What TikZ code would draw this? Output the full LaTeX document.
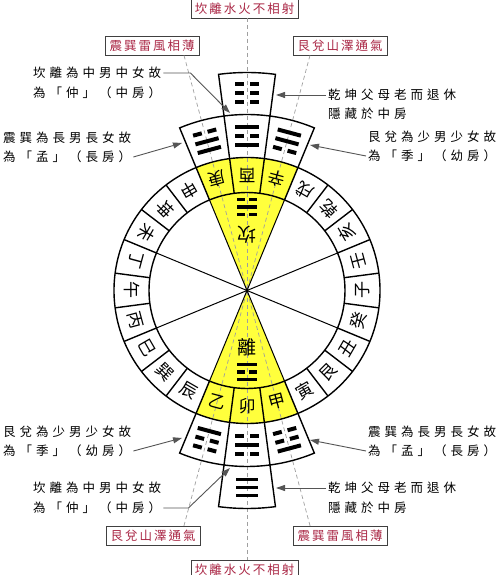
\documentclass[tikz,border=0pt]{standalone}
\usepackage{fontspec}
\newfontfamily\cjk{Noto Sans CJK TC}
\usetikzlibrary{calc,arrows.meta}
\definecolor{yel}{RGB}{255,255,60}
\definecolor{lblred}{RGB}{170,40,70}
\definecolor{arrgray}{RGB}{85,85,85}
\makeatletter
\def\spc#1#2{\def\spc@w{#1}\spc@a#2\@nil}
\def\spc@a#1{\ifx#1\@nil\else\makebox[\spc@w][c]{#1}\expandafter\spc@a\fi}
\makeatother
\newcommand\trow[2]{\if#2S\fill (-12,#1-2) rectangle (12,#1+2);\else\fill (-12,#1-2) rectangle (-3,#1+2);\fill (3,#1-2) rectangle (12,#1+2);\fi}
\newcommand\tri[6]{\begin{scope}[shift={#1},rotate=#2,scale=#3]\trow{9}{#4}\trow{0}{#5}\trow{-9}{#6}\end{scope}}
\begin{document}
\begin{tikzpicture}[x=1pt,y=1pt,
  ringline/.style={line width=1.4pt,black},
  thinline/.style={line width=1pt,black},
  dline/.style={draw=gray!75,line width=0.7pt,dash pattern=on 4pt off 3pt},
  lab/.style={draw=black!75,line width=0.8pt,fill=white,text=lblred,inner sep=0pt,minimum height=19pt,font=\cjk\fontsize{12.5}{14}\selectfont},
  anno/.style={inner sep=0pt,font=\cjk\fontsize{12.5}{15}\selectfont},
  rch/.style={inner sep=0pt,font=\cjk\fontsize{17}{18}\selectfont},
  bigch/.style={inner sep=0pt,font=\cjk\fontsize{19}{20}\selectfont},
  arr/.style={draw=arrgray,line width=0.9pt,-{Triangle[length=9pt,width=6pt]}}]
\useasboundingbox (0,0) rectangle (500,575);
\fill[white] (0,0) rectangle (500,575);
\coordinate (C) at (247,284.5);
% yellow sectors
\fill[yel] (C) -- ($(C)+(67.5:133)$) arc[start angle=67.5,end angle=112.5,radius=133] -- cycle;
\fill[yel] (C) -- ($(C)+(247.5:133)$) arc[start angle=247.5,end angle=292.5,radius=133] -- cycle;
% labels
\node[lab,minimum width=107pt] (LT) at (244.5,566.5) {\spc{14.5pt}{坎離水火不相射}};
\node[lab,minimum width=107pt] (LB) at (244.5,5.5) {\spc{14.5pt}{坎離水火不相射}};
\node[lab,minimum width=94pt] (LTL) at (152,529) {\spc{14.5pt}{震巽雷風相薄}};
\node[lab,minimum width=94pt] (LTR) at (340,529) {\spc{14.5pt}{艮兌山澤通氣}};
\node[lab,minimum width=94pt] (LBL) at (153,39) {\spc{14.5pt}{艮兌山澤通氣}};
\node[lab,minimum width=94pt] (LBR) at (340,39) {\spc{14.5pt}{震巽雷風相薄}};
% dashed guide lines
\coordinate (vt) at (247,557);
\coordinate (vb) at (247,15);
\coordinate (d105a) at ($(C)+(105:243.3)$);
\coordinate (d105b) at ($(C)+(285:244.3)$);
\coordinate (d75a) at ($(C)+(75:243.3)$);
\coordinate (d75b) at ($(C)+(255:244.3)$);
\draw[dline] (vt) -- (vb);
\draw[dline] (d105a) -- (d105b);
\draw[dline] (d75a) -- (d75b);
% ring
\draw[ringline] (C) circle[radius=98];
\draw[ringline] (C) circle[radius=133];
\foreach \a in {7.5,22.5,...,352.5} \draw[ringline] ($(C)+(\a:98)$) -- ($(C)+(\a:133)$);
\foreach \a in {22.5,67.5,...,337.5} \draw[thinline] (C) -- ($(C)+(\a:98)$);
\foreach \a/\c in {0/子,15/壬,30/亥,45/乾,60/戌,75/辛,90/酉,105/庚,120/申,135/坤,150/未,165/丁,180/午,195/丙,210/巳,225/巽,240/辰,255/乙,270/卯,285/甲,300/寅,315/艮,330/丑,345/癸}
  \node[rch,rotate=\a+90] at ($(C)+(\a:115.5)$) {\c};
% outer boxes
\draw[ringline] ($(C)+(67.5:133)$) -- ($(C)+(67.5:176)$) arc[start angle=67.5,end angle=112.5,radius=176] -- ($(C)+(112.5:133)$);
\draw[ringline] ($(C)+(82.5:133)$) -- ($(C)+(82.5:218)$) arc[start angle=82.5,end angle=97.5,radius=218] -- ($(C)+(97.5:133)$);
\draw[ringline] ($(C)+(247.5:133)$) -- ($(C)+(247.5:176)$) arc[start angle=247.5,end angle=292.5,radius=176] -- ($(C)+(292.5:133)$);
\draw[ringline] ($(C)+(262.5:133)$) -- ($(C)+(262.5:218)$) arc[start angle=262.5,end angle=277.5,radius=218] -- ($(C)+(277.5:133)$);
% trigrams
\tri{($(C)+(90:197)$)}{0}{1}{B}{B}{B}
\tri{($(C)+(105:154.5)$)}{15}{1}{B}{S}{S}
\tri{($(C)+(90:154.5)$)}{0}{1}{S}{B}{S}
\tri{($(C)+(75:154.5)$)}{-15}{1}{S}{S}{B}
\tri{($(C)+(90:83.5)$)}{0}{0.8}{B}{S}{B}
\tri{($(C)+(255:154.5)$)}{-15}{1}{S}{B}{B}
\tri{($(C)+(270:154.5)$)}{0}{1}{B}{S}{B}
\tri{($(C)+(285:154.5)$)}{15}{1}{B}{B}{S}
\tri{($(C)+(270:197)$)}{0}{0.9}{S}{S}{S}
\tri{($(C)+(270:81.5)$)}{0}{0.8}{S}{B}{S}
\node[bigch,rotate=180] (kan) at ($(C)+(90:55.5)$) {坎};
\node[bigch] (li) at ($(C)+(270:56.5)$) {離};
% annotations
\node[anno,anchor=west] (A1a) at (31,502) {\spc{16.5pt}{坎離為中男中女故}};
\node[anno,anchor=west] (A1b) at (31,482) {\spc{16.5pt}{為「仲」（中房）}};
\node[anno,anchor=west] (A2a) at (1,437) {\spc{16.5pt}{震巽為長男長女故}};
\node[anno,anchor=west] (A2b) at (1,418) {\spc{16.5pt}{為「孟」（長房）}};
\node[anno,anchor=west] (A3a) at (326,480) {\spc{16.5pt}{乾坤父母老而退休}};
\node[anno,anchor=west] (A3b) at (326,461) {\spc{16.5pt}{隱藏於中房}};
\node[anno,anchor=west] (A4a) at (366,438) {\spc{16.5pt}{艮兌為少男少女故}};
\node[anno,anchor=west] (A4b) at (366,419) {\spc{16.5pt}{為「季」（幼房）}};
\node[anno,anchor=west] (A5a) at (1,143) {\spc{16.5pt}{艮兌為少男少女故}};
\node[anno,anchor=west] (A5b) at (1,124) {\spc{16.5pt}{為「季」（幼房）}};
\node[anno,anchor=west] (A6a) at (31,87) {\spc{16.5pt}{坎離為中男中女故}};
\node[anno,anchor=west] (A6b) at (31,67) {\spc{16.5pt}{為「仲」（中房）}};
\node[anno,anchor=west] (A7a) at (366,143) {\spc{16.5pt}{震巽為長男長女故}};
\node[anno,anchor=west] (A7b) at (366,124) {\spc{16.5pt}{為「孟」（長房）}};
\node[anno,anchor=west] (A8a) at (326,87) {\spc{16.5pt}{乾坤父母老而退休}};
\node[anno,anchor=west] (A8b) at (326,67) {\spc{16.5pt}{隱藏於中房}};
% arrow targets
\coordinate (t1) at (230,462);
\coordinate (t2) at (182,432);
\coordinate (t3) at (276,480);
\coordinate (t4) at (310,430);
\coordinate (t5) at (182,137);
\coordinate (t6) at (230,107);
\coordinate (t7) at (310,135);
\coordinate (t8) at (276,87);
\draw[arr] (A1a.east) -- ++(27,0) -- (t1);
\draw[arr] (A2b.east) -- (t2);
\draw[arr] (A3a.west) -- (t3);
\draw[arr] (A4b.west) -- (t4);
\draw[arr] (A5b.east) -- (t5);
\draw[arr] (A6b.east) -- ++(25,0) -- (t6);
\draw[arr] (A7b.west) -- (t7);
\draw[arr] (A8a.west) -- (t8);
\end{tikzpicture}
\end{document}
